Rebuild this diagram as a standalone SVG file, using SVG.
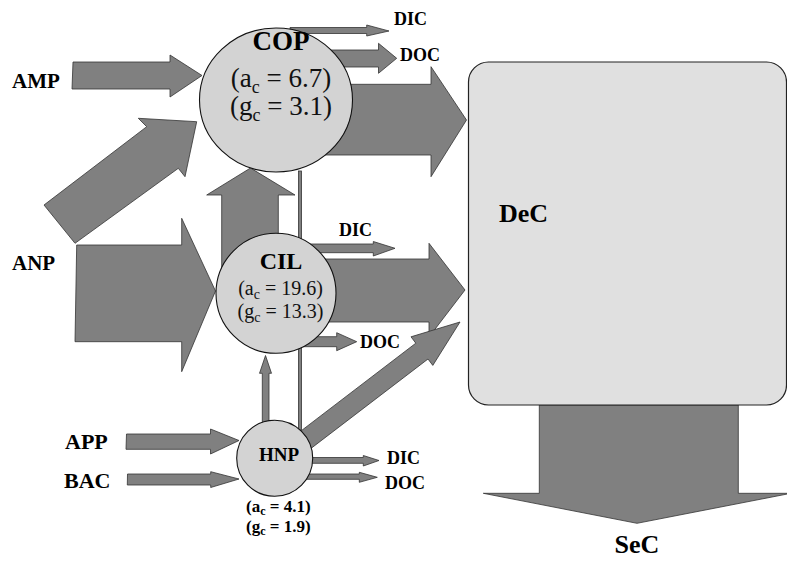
<svg xmlns="http://www.w3.org/2000/svg" width="787" height="568" viewBox="0 0 787 568">
<style>
.ar{fill:#808080;stroke:#333;stroke-width:0.8;stroke-linejoin:miter}
.nd{fill:#d3d3d3;stroke:#111;stroke-width:1.1}
.box{fill:#e0e0e0;stroke:#222;stroke-width:1.2}
.lb{font-family:"Liberation Serif","Times New Roman",serif;font-weight:bold;fill:#000}
.vl{font-family:"Liberation Serif","Times New Roman",serif;fill:#111}
</style>
<rect width="787" height="568" fill="#fff"/>
<g id="connectors">
  <polygon class="ar" points="539.3,405 738.3,405 738.3,493.3 791,493.3 637,523.3 483.3,493.3 539.3,493.3"/>
  <polygon class="ar" points="73,62 170,62 170,55 202,75.5 170,97 170,89 72,89"/>
  <polygon class="ar" points="44,205 146.7,126.7 138.3,118.3 196.7,121.7 185,176.7 178.3,168.3 75,243.3"/>
  <polygon class="ar" points="76.7,245 181.7,245 181.7,218.3 215.5,291 181.7,371.7 181.7,341.7 75,341.7"/>
  <polygon class="ar" points="221.7,300 221.7,195 206.7,195 250.5,168 295,195 278.3,195 278.3,300"/>
  <rect class="ar" x="298.5" y="171" width="3" height="259"/>
  <polygon class="ar" points="290,27.5 366.7,27.5 366.7,25 389,31 366.7,36 366.7,33.5 290,33.5"/>
  <polygon class="ar" points="300,50 378.5,50 378.5,43.3 396.7,58.3 378.5,73.3 378.5,67 300,67"/>
  <polygon class="ar" points="290,84.3 431,84.3 431,66.7 466.5,120 431,176.7 431,155 290,155"/>
  <polygon class="ar" points="290,244 373.3,244 373.3,241.5 395,248.3 373.3,256 373.3,252.7 290,252.7"/>
  <polygon class="ar" points="300,259 429,259 429,243.3 465,290 429,337 429,322 300,322"/>
  <polygon class="ar" points="300,336.7 336.7,336.7 336.7,332.7 356.7,341.7 336.7,350.7 336.7,346.7 300,346.7"/>
  <polygon class="ar" points="262.3,430 262.3,373.3 259.5,373.3 265.5,355.5 271.5,373.3 269,373.3 269,430"/>
  <polygon class="ar" points="284.7,443.4 415.8,343.2 411,336.8 460,322 432.8,365.4 428,359 296.9,459.2"/>
  <polygon class="ar" points="126.5,434 210.5,434 210.5,429 239,440.5 210.5,454 210.5,449.3 126,449.3"/>
  <polygon class="ar" points="127.5,474 210.7,474 210.7,471.7 239,479 210.7,487.5 210.7,485 127.3,485"/>
  <polygon class="ar" points="290,457.5 363.3,457.5 363.3,455.5 379,460.5 363.3,466 363.3,463.3 290,463.3"/>
  <polygon class="ar" points="290,474 359.3,474 359.3,472.3 377.3,477.3 359.3,482.3 359.3,479.3 290,479.3"/>
</g>
<g id="DeC">
  <rect class="box" x="468.5" y="62" width="318" height="343" rx="20" ry="20"/>
  <text class="lb" x="499" y="222" font-size="26">DeC</text>
</g>
<g id="SeC"><text class="lb" x="637" y="553" font-size="26" text-anchor="middle">SeC</text></g>
<g id="COP">
  <ellipse class="nd" cx="276" cy="100" rx="76.5" ry="72"/>
  <text class="lb" x="281" y="50" font-size="27" text-anchor="middle">COP</text>
  <text class="vl" x="281" y="87" font-size="27" text-anchor="middle">(a<tspan font-size="18" dy="6">c</tspan><tspan dy="-6"> = 6.7)</tspan></text>
  <text class="vl" x="281" y="115" font-size="27" text-anchor="middle">(g<tspan font-size="18" dy="6">c</tspan><tspan dy="-6"> = 3.1)</tspan></text>
</g>
<g id="CIL">
  <circle class="nd" cx="276" cy="293.3" r="60"/>
  <text class="lb" x="281" y="269" font-size="24" text-anchor="middle">CIL</text>
  <text class="vl" x="280.5" y="295" font-size="20" text-anchor="middle">(a<tspan font-size="14" dy="4">c</tspan><tspan dy="-4"> = 19.6)</tspan></text>
  <text class="vl" x="280.5" y="318" font-size="20" text-anchor="middle">(g<tspan font-size="14" dy="4">c</tspan><tspan dy="-4"> = 13.3)</tspan></text>
</g>
<g id="HNP">
  <circle class="nd" cx="274.7" cy="458.3" r="38"/>
  <text class="lb" x="279" y="461" font-size="19" text-anchor="middle">HNP</text>
  <text class="lb" x="278.3" y="512" font-size="17" text-anchor="middle">(a<tspan font-size="12" dy="3">c</tspan><tspan dy="-3"> = 4.1)</tspan></text>
  <text class="lb" x="278.3" y="532" font-size="17" text-anchor="middle">(g<tspan font-size="12" dy="3">c</tspan><tspan dy="-3"> = 1.9)</tspan></text>
</g>
<g id="AMP"><text class="lb" x="12" y="88" font-size="21">AMP</text></g>
<g id="ANP"><text class="lb" x="12" y="270" font-size="21">ANP</text></g>
<g id="APP"><text class="lb" x="65" y="449" font-size="22">APP</text></g>
<g id="BAC"><text class="lb" x="64" y="488" font-size="22">BAC</text></g>
<g id="COP_DIC"><text class="lb" x="394" y="25" font-size="18">DIC</text></g>
<g id="COP_DOC"><text class="lb" x="400" y="61" font-size="18">DOC</text></g>
<g id="CIL_DIC"><text class="lb" x="339" y="236" font-size="18">DIC</text></g>
<g id="CIL_DOC"><text class="lb" x="360" y="348" font-size="18">DOC</text></g>
<g id="HNP_DIC"><text class="lb" x="387" y="464" font-size="18">DIC</text></g>
<g id="HNP_DOC"><text class="lb" x="385" y="489" font-size="18">DOC</text></g>
</svg>
